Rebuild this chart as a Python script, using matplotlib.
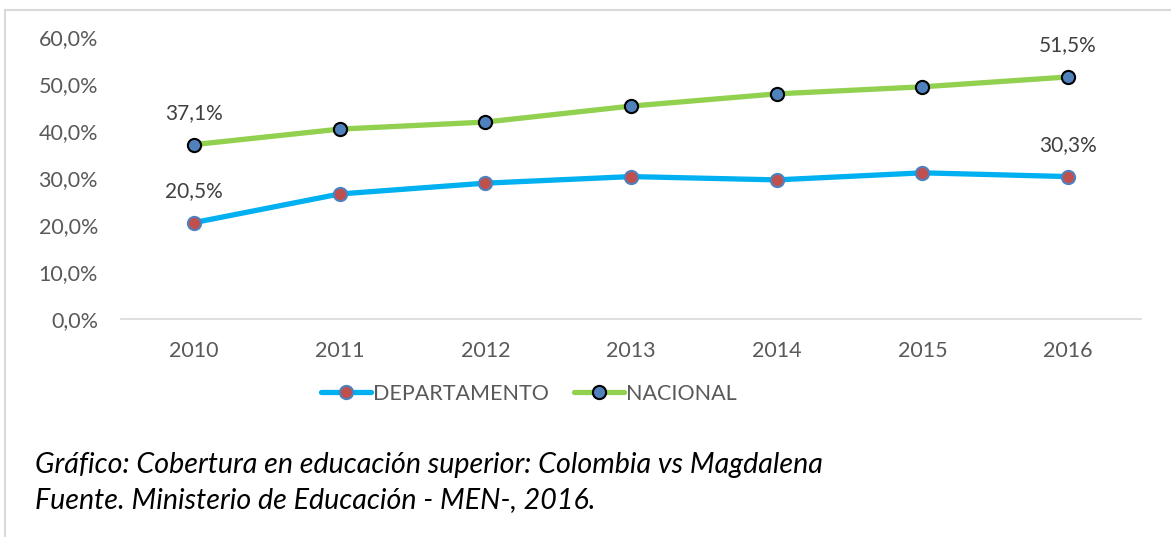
import matplotlib.pyplot as plt
import matplotlib.lines as mlines

years = ["2010", "2011", "2012", "2013", "2014", "2015", "2016"]
departamento = [20.5, 26.6, 28.9, 30.3, 29.6, 31.1, 30.3]
nacional = [37.1, 40.4, 41.9, 45.3, 47.9, 49.4, 51.5]
yticks = [0, 10, 20, 30, 40, 50, 60]

plt.rcParams['font.family'] = ['Lato', 'DejaVu Sans']
gray = '#595959'
fs = 15.5

fig = plt.figure(figsize=(11.71, 5.37), dpi=100)
ax = fig.add_axes([121 / 1171, 1 - 319 / 537, 1020 / 1171, 282 / 537])

x = list(range(len(years)))
ax.plot(x, departamento, color='#00B0F0', lw=3.8, marker='o', ms=9.5,
        mfc='#C0504D', mec='#4F81BD', mew=1.5, solid_capstyle='round', zorder=3)
ax.plot(x, nacional, color='#92D050', lw=3.8, marker='o', ms=9.5,
        mfc='#4F81BD', mec='black', mew=1.5, solid_capstyle='round', zorder=3)

# labels only on first and last points
for series in (departamento, nacional):
    for i in (0, len(series) - 1):
        ax.annotate(f"{series[i]:.1f}%".replace('.', ','), (x[i], series[i]),
                    xytext=(0, 15.5), textcoords='offset points', ha='center',
                    va='bottom', fontsize=15, color='#404040')

ax.set_xlim(-0.5, len(years) - 0.5)
ax.set_ylim(0, 60)
ax.set_xticks(x)
ax.set_xticklabels(years)
ax.set_yticks(yticks)
ax.set_yticklabels([f"{v:.1f}%".replace('.', ',') for v in yticks])
ax.tick_params(length=0, labelsize=fs, labelcolor=gray)
ax.tick_params(axis='x', pad=16)
ax.tick_params(axis='y', pad=16.5)
for s in ('top', 'right', 'left'):
    ax.spines[s].set_visible(False)
ax.spines['bottom'].set_color('#d9d9d9')
ax.spines['bottom'].set_linewidth(1.2)

h1 = mlines.Line2D([], [], color='#00B0F0', lw=3.8, marker='o', ms=9.5,
                   mfc='#C0504D', mec='#4F81BD', mew=1.5, solid_capstyle='round')
h2 = mlines.Line2D([], [], color='#92D050', lw=3.8, marker='o', ms=9.5,
                   mfc='#4F81BD', mec='black', mew=1.5, solid_capstyle='round')
leg = fig.legend([h1, h2], ["DEPARTAMENTO", "NACIONAL"], loc='center',
                 bbox_to_anchor=(529 / 1171, 1 - 394 / 537), ncol=2, frameon=False,
                 fontsize=fs, handlelength=2.3, handletextpad=0.1, columnspacing=1.2)
for t in leg.get_texts():
    t.set_color(gray)

fig.text(35 / 1171, 1 - 465 / 537, "Gráfico: Cobertura en educación superior: Colombia vs Magdalena",
         fontsize=20.6, style='italic', va='center', ha='left')
fig.text(35 / 1171, 1 - 500 / 537, "Fuente. Ministerio de Educación - MEN-, 2016.",
         fontsize=20.6, style='italic', va='center', ha='left')

# outer frame (left and top only)
fig.add_artist(mlines.Line2D([5 / 1171, 5 / 1171], [0, 1 - 10 / 537],
                             transform=fig.transFigure, color='#d9d9d9', lw=1.5))
fig.add_artist(mlines.Line2D([5 / 1171, 1], [1 - 10 / 537, 1 - 10 / 537],
                             transform=fig.transFigure, color='#d9d9d9', lw=1.5))

fig.savefig("out.png", dpi=100)
